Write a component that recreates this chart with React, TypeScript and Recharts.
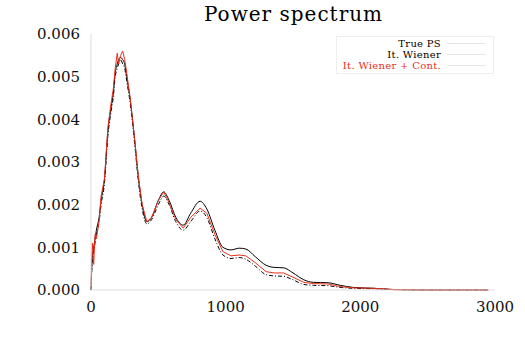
import React from 'react';
import { Line, LineChart, XAxis, YAxis } from 'recharts';

const kValues = [
  0, 10, 20, 30, 40, 60, 75, 100, 125, 150, 165, 180, 195, 205, 220, 235, 250, 265, 290, 325,
  350, 380, 415, 450, 500, 540, 580, 630, 685, 740, 810, 860, 920, 980, 1040, 1100, 1150, 1220,
  1300, 1360, 1430, 1500, 1580, 1650, 1760, 1850, 1950, 2100, 2250, 2500, 2950
];

const truePS = [
  0, 0.0008, 0.001, 0.0012, 0.0014, 0.0017, 0.0021, 0.0026, 0.0037, 0.0043, 0.0046, 0.0051,
  0.0053, 0.0054, 0.00545, 0.0054, 0.0053, 0.005, 0.0045, 0.0035, 0.0027, 0.002, 0.0016, 0.0017,
  0.0021, 0.0023, 0.0021, 0.0017, 0.00152, 0.0018, 0.00208, 0.0019, 0.0014, 0.001, 0.00094,
  0.00098, 0.00096, 0.00078, 0.00058, 0.00053, 0.00052, 0.0004, 0.00024, 0.00018, 0.00017,
  0.00011, 0.00006, 0.00004, 0.00001, 0, 0
];

const itWiener = [
  0, 0.0007, 0.0009, 0.0011, 0.0013, 0.0016, 0.002, 0.0025, 0.0036, 0.0042, 0.0045, 0.005,
  0.0052, 0.0053, 0.0054, 0.0053, 0.0052, 0.0049, 0.0044, 0.0034, 0.0026, 0.0019, 0.00155,
  0.00165, 0.002, 0.0022, 0.002, 0.0016, 0.0014, 0.0016, 0.00185, 0.0017, 0.0012, 0.00082,
  0.00074, 0.00076, 0.00072, 0.00056, 0.00036, 0.00033, 0.00032, 0.00024, 0.00013, 0.00011,
  0.0001, 0.00006, 0.00004, 0.00003, 0.00001, 0, 0
];

const itWienerCont = [
  0.0001, 0.0011, 0.0006, 0.0013, 0.0012, 0.0016, 0.0022, 0.0026, 0.0038, 0.0044, 0.0047,
  0.0052, 0.00555, 0.0053, 0.0055, 0.0056, 0.0054, 0.0051, 0.0045, 0.0035, 0.0027, 0.002,
  0.0016, 0.0017, 0.0021, 0.0023, 0.00205, 0.00165, 0.00145, 0.0017, 0.00192, 0.0018, 0.0013,
  0.0009, 0.0008, 0.00082, 0.0008, 0.00064, 0.00043, 0.0004, 0.0004, 0.0003, 0.00018, 0.00015,
  0.00014, 0.00008, 0.00005, 0.00004, 0.00001, 0, 0
];

const xTicks = [0, 1000, 2000, 3000];
const yTicks = [0, 0.001, 0.002, 0.003, 0.004, 0.005, 0.006];

const legendItems = [
  { label: 'True PS', color: '#000' },
  { label: 'It. Wiener', color: '#000' },
  { label: 'It. Wiener + Cont.', color: '#e8301c' }
];

const data = kValues.map((k, i) => ({
  k,
  truePS: truePS[i],
  itWiener: itWiener[i],
  itWienerCont: itWienerCont[i]
}));

const font = '"DejaVu Serif", serif';

export default function App() {
  return (
    <div style={{ position: 'absolute', left: 0, top: 0, width: 525, height: 350, background: '#fff' }}>
      <div
        style={{
          position: 'absolute',
          top: 2,
          left: 0,
          width: 525,
          paddingLeft: 62,
          boxSizing: 'border-box',
          textAlign: 'center',
          fontFamily: font,
          fontSize: 20,
          letterSpacing: 1
        }}
      >
        Power spectrum
      </div>
      <LineChart
        width={525}
        height={350}
        data={data}
        margin={{ top: 34, right: 30, bottom: 30, left: 0 }}
      >
        <XAxis
          dataKey="k"
          type="number"
          domain={[0, 3000]}
          ticks={xTicks}
          stroke="#ddd"
          tickLine={false}
          height={30}
          tick={{ fill: '#111', fontSize: 15, fontFamily: font }}
          tickMargin={5}
        />
        <XAxis xAxisId="top" orientation="top" dataKey="k" type="number" domain={[0, 3000]} stroke="#ddd" tick={false} tickLine={false} height={0} />
        <YAxis
          domain={[0, 0.006]}
          ticks={yTicks}
          width={91}
          stroke="#ddd"
          tickLine={false}
          tickFormatter={(v: number) => v.toFixed(3)}
          tick={{ fill: '#111', fontSize: 15, fontFamily: font }}
          tickMargin={5}
        />
        <YAxis yAxisId="right" orientation="right" domain={[0, 0.006]} stroke="#ddd" tick={false} tickLine={false} width={0} />
        <Line
          type="monotone"
          dataKey="itWiener"
          stroke="#000"
          strokeWidth={1}
          strokeDasharray="4 2 1 2"
          dot={false}
          isAnimationActive={false}
        />
        <Line
          type="monotone"
          dataKey="truePS"
          stroke="#000"
          strokeWidth={1}
          dot={false}
          isAnimationActive={false}
        />
        <Line
          type="linear"
          dataKey="itWienerCont"
          stroke="#e8301c"
          strokeWidth={1}
          dot={false}
          isAnimationActive={false}
        />
      </LineChart>
      <div
        style={{
          position: 'absolute',
          top: 36,
          left: 336,
          width: 156,
          border: '1px solid #eee',
          padding: '1px 0 2px',
          fontFamily: font,
          fontSize: 10,
          lineHeight: '11px'
        }}
      >
        {legendItems.map((it) => (
          <div key={it.label} style={{ display: 'flex', alignItems: 'center', height: 11 }}>
            <span style={{ width: 104, textAlign: 'right', color: it.color, whiteSpace: 'nowrap', letterSpacing: 0.3 }}>{it.label}</span>
            <span style={{ width: 38, height: 0, borderTop: '1px solid #e4e4e4', marginLeft: 6 }} />
          </div>
        ))}
      </div>
    </div>
  );
}
